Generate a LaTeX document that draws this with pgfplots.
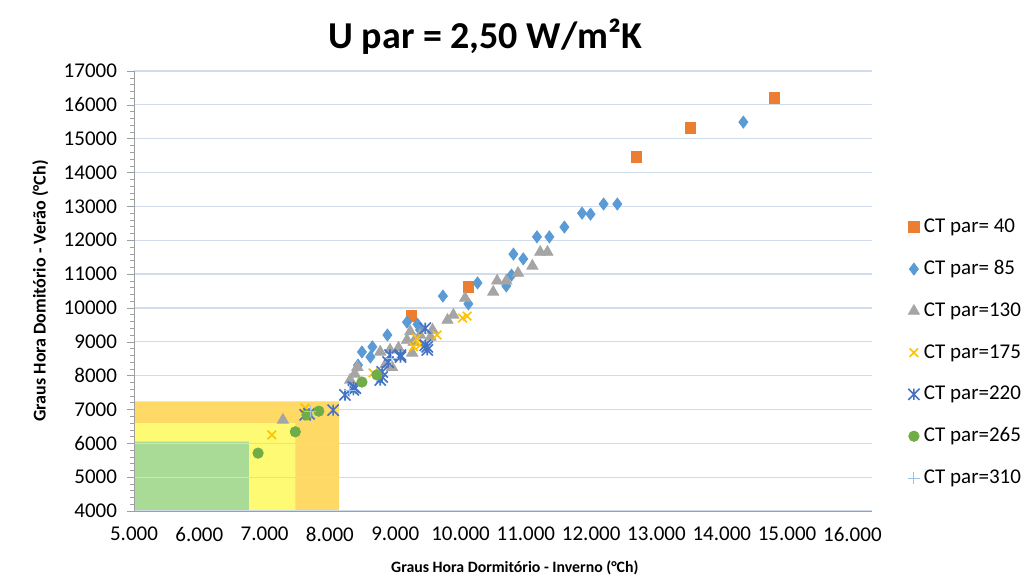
\documentclass[border=0pt]{standalone}
\usepackage{pgfplots}
\pgfplotsset{compat=1.18}
\usepackage{fontspec}
\setmainfont{Carlito}

\definecolor{c40}{RGB}{237,125,49}
\definecolor{c85}{RGB}{91,155,213}
\definecolor{c130}{RGB}{165,165,165}
\definecolor{c175}{RGB}{255,192,0}
\definecolor{c220}{RGB}{68,114,196}
\definecolor{c265}{RGB}{112,173,71}
\definecolor{c310}{RGB}{157,195,230}
\definecolor{boxor}{RGB}{255,217,102}
\definecolor{boxye}{RGB}{255,250,115}
\definecolor{boxgr}{RGB}{169,219,150}
\definecolor{gridc}{RGB}{208,220,234}

% Excel-like star marker: an x with a vertical bar
\pgfdeclareplotmark{xstar}{%
  \pgfpathmoveto{\pgfpoint{-\pgfplotmarksize}{-\pgfplotmarksize}}%
  \pgfpathlineto{\pgfpoint{\pgfplotmarksize}{\pgfplotmarksize}}%
  \pgfpathmoveto{\pgfpoint{-\pgfplotmarksize}{\pgfplotmarksize}}%
  \pgfpathlineto{\pgfpoint{\pgfplotmarksize}{-\pgfplotmarksize}}%
  \pgfpathmoveto{\pgfpoint{0pt}{-\pgfplotmarksize}}%
  \pgfpathlineto{\pgfpoint{0pt}{\pgfplotmarksize}}%
  \pgfusepathqstroke}

\begin{document}
\begin{tikzpicture}
\begin{axis}[
    set layers,
    width=369pt, height=220pt, scale only axis,
    xmin=5000, xmax=16300, ymin=4000, ymax=17000,
    xtick={5000,6000,...,16000},
    ytick={4000,5000,...,17000},
    minor y tick num=4,
    axis x line*=bottom, axis y line*=left,
    axis line style={draw=gray!75},
    tick style={draw=gray!75},
    tick align=outside,
    major tick length=3.5pt, minor tick length=2pt,
    xtick style={draw=none},
    ymajorgrids, grid style={gridc, line width=0.6pt},
    enlargelimits=false, scaled ticks=false,
    /pgf/number format/assume math mode=true,
    ticklabel style={font=\fontsize{10.5}{12}\selectfont},
    xticklabel style={/pgf/number format/1000 sep={.}, yshift=-1pt},
    yticklabel style={/pgf/number format/1000 sep={}, xshift=-1.5pt},
    title={U par = 2,50 W/m²K},
    title style={font=\bfseries\fontsize{19}{22}\selectfont, at={(axis description cs:0.476,1)}, anchor=center, yshift=11pt},
    xlabel={Graus Hora Dormitório - Inverno (°Ch)},
    xlabel style={font=\bfseries\fontsize{7.9}{9}\selectfont, at={(axis description cs:0.516,-0.13)}, anchor=center},
    ylabel={Graus Hora Domitório - Verão (°Ch)},
    ylabel style={font=\bfseries\fontsize{9}{10}\selectfont, at={(axis description cs:-0.127,0.5)}, anchor=center},
    legend style={at={(axis description cs:1.04,0.36)}, anchor=west, draw=none, fill=none,
        font=\fontsize{10.5}{12}\selectfont, row sep=8.5pt},
    legend cell align=left,
]
% comfort zones
\addplot[draw=none, fill=boxor, on layer=axis background, forget plot]
    coordinates {(5000,4000) (8140,4000) (8140,7240) (5000,7240)} \closedcycle;
\addplot[draw=none, fill=boxye, on layer=axis background, forget plot]
    coordinates {(5000,4000) (7470,4000) (7470,6600) (5000,6600)} \closedcycle;
\addplot[draw=none, fill=boxgr, on layer=axis background, forget plot]
    coordinates {(5000,4000) (6760,4000) (6760,6050) (5000,6050)} \closedcycle;

\addplot[only marks, mark=square*, mark size=2.6pt, color=c40] coordinates {
(9244,9760) (10117,10617) (12691,14458) (13518,15315) (14805,16200)};
\addlegendentry{CT par= 40}

\addplot[only marks, mark=diamond*, mark size=3pt, color=c85] coordinates {
(14330,15490) (12400,13070) (12190,13070) (11990,12770) (11860,12800)
(11590,12390) (11170,12100) (11360,12100) (10810,11590) (10960,11450)
(10780,10970) (10700,10650) (10260,10740) (9730,10350) (10120,10120)
(9180,9580) (9340,9520) (9380,9350) (8880,9200) (8650,8850)
(8490,8700) (8620,8550) (8430,8310)};
\addlegendentry{CT par= 85}

\addplot[only marks, mark=triangle*, mark size=3.2pt, color=c130] coordinates {
(11220,11650) (11330,11650) (11100,11240) (10880,11030) (10560,10800)
(10700,10800) (10500,10470) (10070,10290) (9890,9790) (9800,9640)
(9230,9300) (9380,9200) (9570,9350) (9540,9140) (9280,8990)
(9180,9050) (8770,8700) (8920,8760) (9050,8820) (9260,8670)
(8950,8250) (8850,8330) (8420,8250) (8310,7870) (8380,8050) (7280,6690)};
\addlegendentry{CT par=130}

\addplot[only marks, mark=x, mark size=3pt, line width=0.8pt, color=c175] coordinates {
(10030,9700) (10100,9760) (9640,9200) (9280,8850) (9380,8900)
(8660,8080) (7620,7040) (7110,6250) (9330,9100)};
\addlegendentry{CT par=175}

\addplot[only marks, mark=xstar, mark size=2.8pt, line width=0.8pt, color=c220] coordinates {
(9460,8900) (9490,8760) (9490,8850) (8920,8610) (9080,8610)
(8890,8400) (9080,8550) (8800,8110) (8770,7870) (8800,7960)
(8390,7630) (8230,7430) (8360,7580) (8050,6980) (7620,6840)
(7680,6870) (8360,7660) (9460,9400)};
\addlegendentry{CT par=220}

\addplot[only marks, mark=*, mark size=2.6pt, color=c265] coordinates {
(6900,5710) (7470,6340) (7650,6840) (7830,6950) (8490,7810) (8720,8020)};
\addlegendentry{CT par=265}

\addplot[only marks, mark=+, mark size=3pt, line width=0.5pt, color=c310] coordinates {
(7700,6950) (8300,7550) (8950,8500)};
\addlegendentry{CT par=310}
\end{axis}
\path[use as bounding box] (-67pt,-35pt) rectangle (449pt,255.5pt);
\end{tikzpicture}
\end{document}
